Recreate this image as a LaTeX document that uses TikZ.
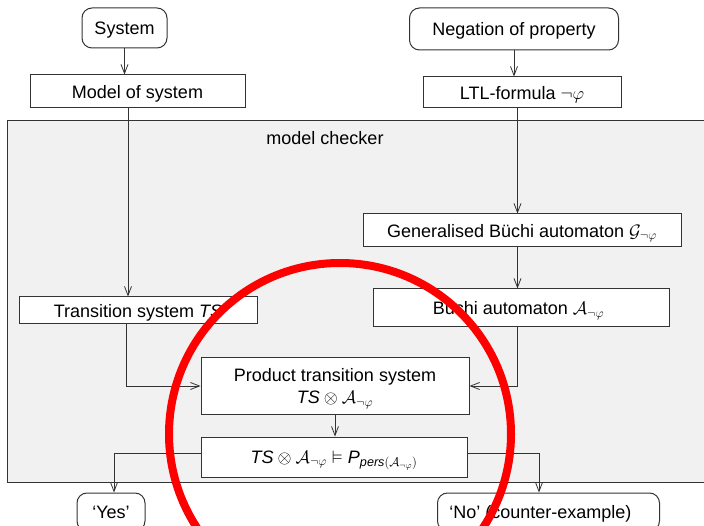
\RequirePackage{fix-cm}
\documentclass[tikz,border=0pt]{standalone}
\usepackage{amsmath}
\usepackage{amssymb}
\usepackage{fontspec}
\setmainfont{Liberation Sans}
\usetikzlibrary{arrows.meta}
\definecolor{edgegray}{HTML}{333333}
\definecolor{mcgray}{HTML}{F1F1F1}
\definecolor{circred}{HTML}{FF0000}
\begin{document}
\begin{tikzpicture}[x=1pt,y=-1pt,
  bx/.style={draw=edgegray, line width=1pt, fill=white, inner sep=0pt, align=center,
             text depth=0pt, font=\fontsize{18}{22}\selectfont},
  rbx/.style={bx, rounded corners=10pt},
  conn/.style={draw=edgegray, line width=0.8pt, -{Straight Barb[length=9pt,width=7pt]}},
  lbl/.style={font=\fontsize{18}{22}\selectfont, inner sep=0pt}]
\useasboundingbox (0,0) rectangle (704,526);
\begin{scope}
\clip (0,0) rectangle (704,526);
% model checker area
\draw[draw=edgegray, line width=1pt, fill=mcgray] (7,121) rectangle (712,482);
\node[lbl] (mc) at (325,138) {model checker};

% nodes
\node[rbx, minimum width=85pt, minimum height=40pt] (sys) at (124.5,28) {System};
\node[rbx, minimum width=209pt, minimum height=42pt] (neg) at (514,29) {Negation of property};
\node[bx, minimum width=215pt, minimum height=33pt] (mos) at (137.5,91.5) {Model of system};
\node[bx, minimum width=198pt, minimum height=31pt] (ltl) at (522,92.5) {LTL-formula $\neg\varphi$};
\node[bx, minimum width=318pt, minimum height=33pt] (gba) at (522,230.5) {Generalised B\"uchi automaton $\mathcal{G}_{\neg\varphi}$};
\node[bx, minimum width=296pt, minimum height=38pt] (ba) at (521,308) {B\"uchi automaton $\mathcal{A}_{\neg\varphi}$\hspace*{5pt}};
\node[bx, minimum width=238pt, minimum height=27pt] (ts) at (138,310.5) {Transition system \textit{TS}};
\node[bx, minimum width=268pt, minimum height=56pt] (prod) at (335,386) {Product transition system\\ $\textit{TS}\otimes\mathcal{A}_{\neg\varphi}$};
\node[bx, minimum width=266pt, minimum height=40pt] (chk) at (334,457) {$\textit{TS}\otimes\mathcal{A}_{\neg\varphi}\vDash \textit{P}_{\textit{pers}(\mathcal{A}_{\neg\varphi})}$};
\node[rbx, minimum width=68pt, minimum height=38pt] (yes) at (111,512) {`Yes'};
\node[rbx, minimum width=222pt, minimum height=38pt] (no) at (548.5,512) {`No' (counter-example)\hspace*{16pt}};

% connector helper coordinates
\coordinate (xl) at (128,0);
\coordinate (xr) at (517.5,0);
\coordinate (xt) at (126,0);
\coordinate (yl) at (0,453);
\coordinate (xy) at (114,0);
\coordinate (xn) at (539,0);

% connectors
\draw[conn] (sys.south) -- (sys.south |- mos.north);
\draw[conn] (neg.south) -- (neg.south |- ltl.north);
\draw[conn] (xl |- mos.south) -- (xl |- ts.north);
\draw[conn] (xr |- ltl.south) -- (xr |- gba.north);
\draw[conn] (xr |- gba.south) -- (xr |- ba.north);
\draw[conn] (xr |- ba.south) |- (prod.east);
\draw[conn] (xt |- ts.south) |- (prod.west);
\draw[conn] (prod.south) -- (prod.south |- chk.north);
\draw[conn] (yl -| chk.west) -| (xy |- yes.north);
\draw[conn] (yl -| chk.east) -| (xn |- no.north);

% red circle
\draw[circred, line width=8pt] (340,434) circle[radius=171pt];
\end{scope}
\end{tikzpicture}
\end{document}
